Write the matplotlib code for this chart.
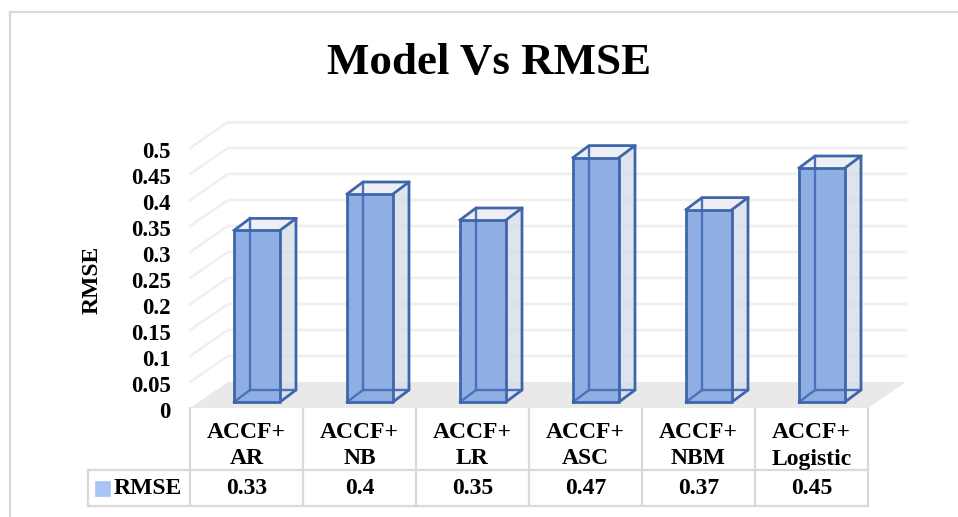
import matplotlib
matplotlib.use('Agg')
import matplotlib.pyplot as plt
from matplotlib.patches import Polygon

##### Dados
modelos = ['ACCF+\nAR', 'ACCF+\nNB', 'ACCF+\nLR', 'ACCF+\nASC', 'ACCF+\nNBM', 'ACCF+\nLogistic']
rmse = [0.33, 0.4, 0.35, 0.47, 0.37, 0.45]
rmse_txt = ['0.33', '0.4', '0.35', '0.47', '0.37', '0.45']
ticks_y = [0, 0.05, 0.1, 0.15, 0.2, 0.25, 0.3, 0.35, 0.4, 0.45, 0.5]
ticks_txt = ['0', '0.05', '0.1', '0.15', '0.2', '0.25', '0.3', '0.35', '0.4', '0.45', '0.5']

W, H = 958, 517
plt.rcParams['font.family'] = ['Liberation Serif', 'DejaVu Serif']
plt.rcParams['font.weight'] = 'bold'

fig = plt.figure(figsize=(W / 100, H / 100), dpi=100)

# eixo de fundo em pixels, para moldura e tabela
bg = fig.add_axes([0, 0, 1, 1])
bg.set_xlim(0, W)
bg.set_ylim(H, 0)
bg.axis('off')

# eixo principal
x0, x1, y0, y1 = 190, 868, 408, 148
ax = fig.add_axes([x0 / W, 1 - y0 / H, (x1 - x0) / W, (y0 - y1) / H])
ax.set_xlim(-0.5, len(rmse) - 0.5)
ax.set_ylim(0, 0.5)
ax.axis('off')
ax.patch.set_alpha(0)

# profundidade em unidades dos dados
px = 1 / 113
py = 0.5 / 260
fx, fy = 38 * px, 26 * py      # piso
bx, by = 16 * px, 12 * py      # barra
off_x, off_y = 10.5 * px, 6 * py
larg = 46 * px

cor_grid = '#efefef'
cor_borda = '#3f66ab'
esq, dir_ = -0.5, len(rmse) - 0.5

# piso
ax.add_patch(Polygon([(esq, 0), (dir_, 0), (dir_ + fx, fy), (esq + fx, fy)],
                     fc='#e9e9e9', ec='none', clip_on=False, zorder=1))
# grades
for t in ticks_y[1:]:
    ax.plot([esq, esq + fx, dir_ + fx], [t, t + fy, t + fy], color=cor_grid, lw=1.8,
            clip_on=False, zorder=1, solid_joinstyle='round')
ax.plot([esq + fx, dir_ + fx], [0.5 + fy, 0.5 + fy], color=cor_grid, lw=1.8, clip_on=False, zorder=1)

# barras 3d
for i, v in enumerate(rmse):
    l = i - larg / 2 + off_x
    r = i + larg / 2 + off_x
    b = off_y
    t = v + off_y
    # lateral
    ax.add_patch(Polygon([(r, b), (r + bx, b + by), (r + bx, t + by), (r, t)],
                         fc='#d7dce8', ec='none', alpha=0.8, clip_on=False, zorder=3))
    # topo
    ax.add_patch(Polygon([(l, t), (r, t), (r + bx, t + by), (l + bx, t + by)],
                         fc='#eeeff4', ec='none', clip_on=False, zorder=3))
    # frente
    ax.add_patch(Polygon([(l, b), (r, b), (r, t), (l, t)],
                         fc='#8fafe4', ec='none', clip_on=False, zorder=4))
    # arestas de tras
    for xs, ys in [([l + bx, l + bx], [b + by, t + by]),
                   ([l + bx, r + bx], [b + by, b + by]),
                   ([l, l + bx], [b, b + by])]:
        ax.plot(xs, ys, color='#4a72b8', lw=1.7, clip_on=False, zorder=5)
    # arestas da frente
    for xs, ys in [([l, r, r, l, l], [b, b, t, t, b]),
                   ([r, r + bx, r + bx, r], [b, b + by, t + by, t]),
                   ([l, l + bx, r + bx], [t, t + by, t + by])]:
        ax.plot(xs, ys, color=cor_borda, lw=2, clip_on=False, zorder=6, solid_joinstyle='round')

# rotulos do eixo y
for t, s in zip(ticks_y, ticks_txt):
    ax.text(esq - 19 * px, t - 4.5 * py, s, ha='right', va='center', fontsize=16.5, clip_on=False)
ax.text(esq - 98 * px, 0.25 - 2 * py, 'RMSE', rotation=90, ha='center', va='center', fontsize=17, clip_on=False)

# tabela
cor_tab = '#d9d9d9'
for i in range(len(rmse) + 1):
    xp = x0 + 113 * i
    bg.plot([xp, xp], [y0, 506], color=cor_tab, lw=1.6, zorder=1)
bg.plot([88, x1], [470, 470], color=cor_tab, lw=1.6)
bg.plot([88, x1], [506, 506], color=cor_tab, lw=1.6)
bg.plot([88, 88], [470, 506], color=cor_tab, lw=1.6)
bg.add_patch(Polygon([(95, 481), (110, 481), (110, 496), (95, 496)], fc='#a9c4f2', ec='#a9c4f2', lw=0.5))
bg.text(114, 489, 'RMSE', ha='left', va='center', fontsize=17)
for i, (m, s) in enumerate(zip(modelos, rmse_txt)):
    xp = x0 + 113 * (i + 0.5)
    a, b = m.split('\n')
    bg.text(xp, 432, a, ha='center', va='center', fontsize=17)
    bg.text(xp, 459, b, ha='center', va='center', fontsize=17)
    bg.text(xp, 489, s, ha='center', va='center', fontsize=17)

# moldura
bg.plot([10, 10], [517, 12], color='#d9d9d9', lw=1.6)
bg.plot([10, 958], [12, 12], color='#d9d9d9', lw=1.6)

bg.text(489, 63, 'Model Vs RMSE', ha='center', va='center', fontsize=32.4)

fig.savefig('out.png', dpi=100)
